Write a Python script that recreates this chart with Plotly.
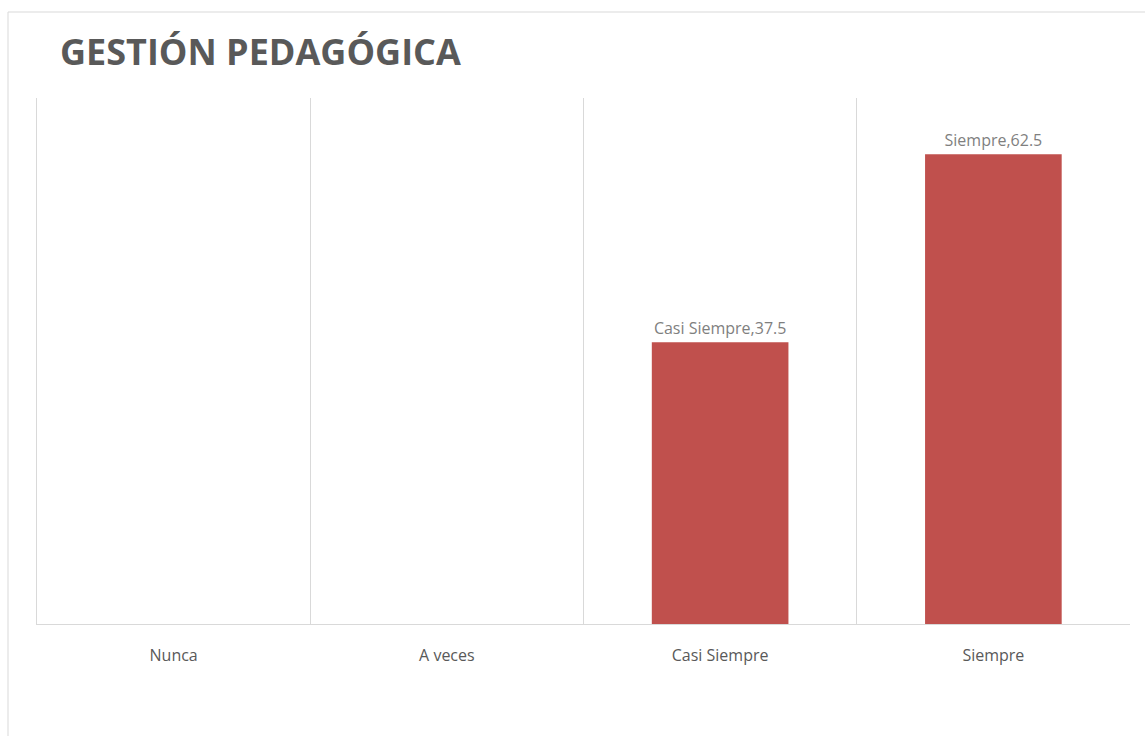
import plotly.graph_objects as go

# Survey responses for the "Gestión pedagógica" dimension (percent)
categories = ["Nunca", "A veces", "Casi Siempre", "Siempre"]
values = [0, 0, 37.5, 62.5]
title_text = "GESTIÓN PEDAGÓGICA"

bar_color = "#C0504D"
text_color = "#595959"
grid_color = "#D9D9D9"

labels = [f"{c},{v:g}" if v > 0 else "" for c, v in zip(categories, values)]

fig = go.Figure(
    go.Bar(
        x=categories,
        y=values,
        width=0.5,
        marker=dict(color=bar_color, line=dict(width=0)),
        text=labels,
        textposition="outside",
        cliponaxis=False,
        textfont=dict(family="Open Sans", size=16, color="#7F7F7F"),
        hoverinfo="x+y",
    )
)

W, H = 1145, 736
ml, mr, mt, mb = 37, 15, 98, 112
pw, ph = W - ml - mr, H - mt - mb


def px_to_paper(px, py):
    return (px - ml) / pw, (H - mb - py) / ph


x0, y1 = px_to_paper(8, 12)
x1, y0 = px_to_paper(1150, 740)

fig.add_shape(
    type="rect", xref="paper", yref="paper",
    x0=x0, y0=y0, x1=x1, y1=y1,
    line=dict(color="#D9D9D9", width=1), fillcolor="rgba(0,0,0,0)",
    layer="below",
)

fig.update_layout(
    width=W, height=H,
    margin=dict(l=ml, r=mr, t=mt, b=mb, pad=0),
    paper_bgcolor="white",
    plot_bgcolor="white",
    showlegend=False,
    title=dict(
        text=f"<b>{title_text}</b>",
        x=60 / W, xanchor="left", xref="container",
        y=1 - 52 / H, yanchor="middle", yref="container",
        font=dict(family="Open Sans", size=36, color=text_color),
    ),
    xaxis=dict(
        type="category",
        tickson="boundaries",
        showgrid=True,
        gridcolor=grid_color,
        gridwidth=1,
        showline=True,
        linecolor=grid_color,
        linewidth=1,
        ticks="",
        ticklen=0,
        ticklabelstandoff=17,
        tickfont=dict(family="Open Sans", size=16, color=text_color),
        zeroline=False,
    ),
    yaxis=dict(
        range=[0, 70],
        showgrid=False,
        showticklabels=False,
        zeroline=False,
        showline=True,
        linecolor=grid_color,
        linewidth=1,
        ticks="",
    ),
    font=dict(family="Open Sans"),
)

fig.write_html("out.html")
